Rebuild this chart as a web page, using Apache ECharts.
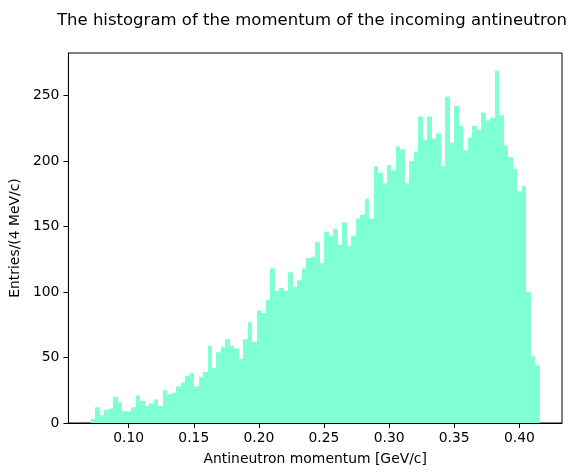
<!DOCTYPE html>
<html>
<head>
<meta charset="utf-8">
<script src="https://cdn.jsdelivr.net/npm/echarts@6/dist/echarts.min.js"></script>
<style>
  html, body { margin: 0; padding: 0; background: #ffffff; }
  #chart { width: 582px; height: 476px; }
</style>
</head>
<body>
<div id="chart"></div>
<script>
// Histogram counts per bin (100 bins)
const counts = [
  3, 12, 6, 10, 11, 20, 16, 9, 9, 12,
  21, 17, 13, 15, 18, 13, 25, 22, 23, 28,
  31, 36, 38, 28, 35, 39, 59, 42, 54, 58,
  64, 59, 57, 49, 64, 77, 62, 86, 84, 94,
  118, 101, 103, 101, 115, 104, 109, 118, 126, 127,
  138, 122, 146, 143, 148, 136, 153, 135, 143, 156,
  159, 171, 156, 196, 191, 183, 197, 193, 211, 209,
  183, 200, 207, 234, 216, 234, 217, 221, 196, 249,
  214, 242, 227, 208, 218, 227, 224, 237, 231, 233,
  269, 235, 212, 203, 194, 177, 181, 100, 51, 44
];
// Histogram range (GeV/c)
const histMin = 0.07097;
const histMax = 0.41553;
const nBins = counts.length;

const xTicks = [0.10, 0.15, 0.20, 0.25, 0.30, 0.35, 0.40];
const yTicks = [0, 50, 100, 150, 200, 250];

const titleText = 'The histogram of the momentum of the incoming antineutron';
const xName = 'Antineutron momentum [GeV/c]';
const yName = 'Entries/(4 MeV/c)';

const binW = (histMax - histMin) / nBins;
const data = counts.map((c, i) => [histMin + i * binW, histMin + (i + 1) * binW, c]);
const span = histMax - histMin;
const yMax = Math.max(...counts) * 1.05;

const FONT = 'DejaVu Sans';
const chart = echarts.init(document.getElementById('chart'), null, { renderer: 'canvas' });
chart.setOption({
  animation: false,
  backgroundColor: '#ffffff',
  title: {
    text: titleText,
    left: 307,
    top: 7,
    textAlign: 'center',
    textStyle: { fontFamily: FONT, fontSize: 16.5, fontWeight: 'normal', color: '#000' }
  },
  grid: {
    left: 66, top: 53, width: 496, height: 370,
    show: true, borderColor: '#000', borderWidth: 1, backgroundColor: 'transparent',
    containLabel: false
  },
  xAxis: {
    type: 'value',
    min: histMin - 0.05 * span,
    max: histMax + 0.05 * span,
    name: xName,
    nameLocation: 'middle',
    nameGap: 29,
    nameTextStyle: { fontFamily: FONT, fontSize: 13.9, color: '#000' },
    axisLine: { show: true, onZero: false, lineStyle: { color: '#000', width: 1 } },
    axisTick: { show: true, customValues: xTicks, length: 5, lineStyle: { color: '#000' } },
    axisLabel: {
      customValues: xTicks, margin: 8,
      formatter: v => v.toFixed(2),
      fontFamily: FONT, fontSize: 13.9, color: '#000'
    },
    splitLine: { show: false }
  },
  yAxis: {
    type: 'value',
    min: 0,
    max: yMax,
    name: yName,
    nameLocation: 'middle',
    nameGap: 44,
    nameRotate: 90,
    nameTextStyle: { fontFamily: FONT, fontSize: 13.9, color: '#000' },
    axisLine: { show: true, lineStyle: { color: '#000', width: 1 } },
    axisTick: { show: true, customValues: yTicks, length: 5, lineStyle: { color: '#000' } },
    axisLabel: {
      customValues: yTicks, margin: 9,
      fontFamily: FONT, fontSize: 13.9, color: '#000'
    },
    splitLine: { show: false }
  },
  series: [{
    type: 'custom',
    clip: true,
    encode: { x: [0, 1], y: 2 },
    data: data,
    renderItem: function (params, api) {
      const p0 = api.coord([api.value(0), api.value(2)]);
      const p1 = api.coord([api.value(1), 0]);
      const x0 = Math.round(p0[0]);
      const x1 = Math.round(p1[0]);
      return {
        type: 'rect',
        shape: { x: x0, y: p0[1], width: x1 - x0, height: p1[1] - p0[1] },
        style: { fill: '#7fffd4' }
      };
    }
  }]
});
</script>
</body>
</html>
